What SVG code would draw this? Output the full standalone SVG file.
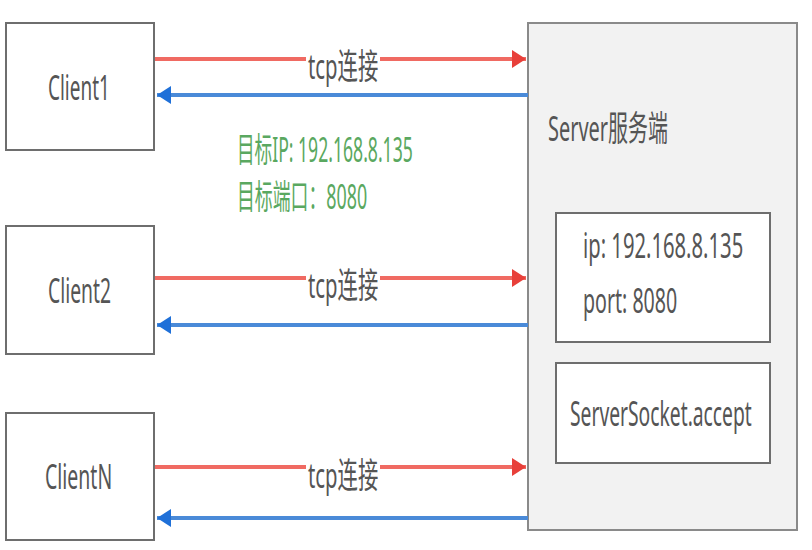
<svg xmlns="http://www.w3.org/2000/svg" width="812" height="550" viewBox="0 0 812 550">
<style>
.bg{fill:#ffffff}
.box{fill:#ffffff;stroke:#6e6e6e;stroke-width:2}
.srv{fill:#f2f2f2;stroke:#8a8a8a;stroke-width:2}
.t{font-family:"Noto Sans","Noto Sans CJK SC",sans-serif;font-size:35px;fill:#555555}
.g{font-family:"Noto Sans","Noto Sans CJK SC",sans-serif;font-size:34px;fill:#5aa860}
.red{stroke:#f06a62;stroke-width:4;fill:none}
.blue{stroke:#4a8ad8;stroke-width:4;fill:none}
.lblbg{fill:#ffffff}
</style>
<defs>
<marker id="ar" markerUnits="userSpaceOnUse" markerWidth="16" markerHeight="20" refX="14" refY="9" orient="auto">
<path d="M0,0 L14,9 L0,18 z" fill="#e8403a"/>
</marker>
<marker id="ab" markerUnits="userSpaceOnUse" markerWidth="16" markerHeight="20" refX="14" refY="9" orient="auto">
<path d="M0,0 L14,9 L0,18 z" fill="#1f70d8"/>
</marker>
</defs>
<rect class="bg" x="0" y="0" width="812" height="550"/>

<g id="server">
<rect class="srv" x="528" y="23" width="269" height="507"/>
<text class="t" transform="translate(548,141) scale(0.6,1)" textLength="200" lengthAdjust="spacingAndGlyphs">Server服务端</text>
</g>
<g id="server-address">
<rect class="box" x="556" y="213" width="214" height="129"/>
<text class="t" transform="translate(583,258) scale(0.6,1)" textLength="267" lengthAdjust="spacingAndGlyphs">ip: 192.168.8.135</text>
<text class="t" transform="translate(583,313) scale(0.6,1)" textLength="157" lengthAdjust="spacingAndGlyphs">port: 8080</text>
</g>
<g id="server-accept">
<rect class="box" x="556" y="363" width="214" height="100"/>
<text class="t" transform="translate(570,426) scale(0.6,1)" textLength="303" lengthAdjust="spacingAndGlyphs">ServerSocket.accept</text>
</g>

<g id="client1">
<rect class="box" x="6" y="23" width="148" height="127"/>
<text class="t" transform="translate(48,100) scale(0.6,1)" textLength="103" lengthAdjust="spacingAndGlyphs">Client1</text>
</g>
<g id="client2">
<rect class="box" x="6" y="226" width="148" height="128"/>
<text class="t" transform="translate(48,303) scale(0.6,1)" textLength="105" lengthAdjust="spacingAndGlyphs">Client2</text>
</g>
<g id="clientN">
<rect class="box" x="6" y="413" width="148" height="127"/>
<text class="t" transform="translate(45,489) scale(0.6,1)" textLength="112" lengthAdjust="spacingAndGlyphs">ClientN</text>
</g>

<g id="connectors">
<line class="red" x1="155" y1="59" x2="526" y2="59" marker-end="url(#ar)"/>
<line class="blue" x1="528" y1="95" x2="157" y2="95" marker-end="url(#ab)"/>
<line class="red" x1="155" y1="278" x2="526" y2="278" marker-end="url(#ar)"/>
<line class="blue" x1="528" y1="325" x2="157" y2="325" marker-end="url(#ab)"/>
<line class="red" x1="155" y1="467" x2="526" y2="467" marker-end="url(#ar)"/>
<line class="blue" x1="528" y1="518" x2="157" y2="518" marker-end="url(#ab)"/>
<rect class="lblbg" x="306" y="50" width="74" height="22"/>
<text class="t" transform="translate(308,79) scale(0.6,1)" textLength="117" lengthAdjust="spacingAndGlyphs">tcp连接</text>
<rect class="lblbg" x="306" y="262" width="74" height="30"/>
<text class="t" transform="translate(308,298) scale(0.6,1)" textLength="117" lengthAdjust="spacingAndGlyphs">tcp连接</text>
<rect class="lblbg" x="306" y="451" width="74" height="30"/>
<text class="t" transform="translate(308,488) scale(0.6,1)" textLength="117" lengthAdjust="spacingAndGlyphs">tcp连接</text>
</g>

<g id="target-note">
<text class="g" transform="translate(237,162) scale(0.6,1)" textLength="293" lengthAdjust="spacingAndGlyphs">目标IP: 192.168.8.135</text>
<text class="g" transform="translate(237,209) scale(0.6,1)" textLength="217" lengthAdjust="spacingAndGlyphs">目标端口：8080</text>
</g>
</svg>
